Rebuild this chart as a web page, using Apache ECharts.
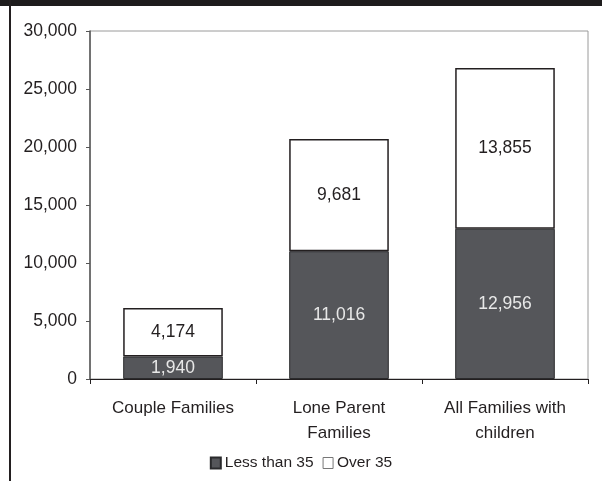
<!DOCTYPE html>
<html>
<head>
<meta charset="utf-8">
<script src="https://cdn.jsdelivr.net/npm/echarts@6/dist/echarts.min.js"></script>
<style>
  html, body { margin: 0; padding: 0; background: #ffffff; }
  #chart { width: 602px; height: 481px; }
</style>
</head>
<body>
<div id="chart"></div>
<script>
// Family groups on the category axis
const categories = ['Couple Families', 'Lone Parent\nFamilies', 'All Families with\nchildren'];
// Stacked segments: age of the family reference person
const lessThan35 = [1940, 11016, 12956];
const over35 = [4174, 9681, 13855];
const seriesNames = ['Less than 35', 'Over 35'];
// Value axis range
const yMin = 0, yMax = 30000, yStep = 5000;

const fmt = v => Number(v).toLocaleString('en-US');
const FONT = '"Liberation Sans", Arial, sans-serif';
const INK = '#231f20';

const chart = echarts.init(document.getElementById('chart'), null, { renderer: 'canvas' });
chart.setOption({
  animation: false,
  backgroundColor: '#ffffff',
  textStyle: { fontFamily: FONT },
  graphic: [
    { type: 'rect', left: 0, top: 0, shape: { width: 602, height: 6 }, style: { fill: '#1e1c1d' }, silent: true },
    { type: 'rect', left: 9, top: 0, shape: { width: 2, height: 481 }, style: { fill: INK }, silent: true }
  ],
  grid: {
    left: 90, right: 14, top: 31, bottom: 102,
    show: true, borderColor: '#9a9a9a', borderWidth: 1, backgroundColor: 'transparent'
  },
  legend: {
    bottom: 5,
    left: 'center',
    itemWidth: 10, itemHeight: 11, itemGap: 9,
    icon: 'rect',
    textStyle: { fontFamily: FONT, fontSize: 15.5, color: INK, padding: [0, 0, 0, -1] },
    data: [
      { name: seriesNames[0] },
      { name: seriesNames[1], itemStyle: { color: '#ffffff', borderColor: '#777777', borderWidth: 1 } }
    ]
  },
  xAxis: {
    type: 'category',
    data: categories,
    axisLine: { lineStyle: { color: INK, width: 1 } },
    axisTick: { show: true, length: 5, lineStyle: { color: INK } },
    axisLabel: { fontFamily: FONT, fontSize: 17, color: INK, margin: 17, lineHeight: 25, interval: 0 }
  },
  yAxis: {
    type: 'value',
    min: yMin, max: yMax, interval: yStep,
    splitLine: { show: false },
    axisLine: { show: true, lineStyle: { color: '#555555', width: 1.5 } },
    axisTick: { show: true, length: 4, lineStyle: { color: '#555555' } },
    axisLabel: { fontFamily: FONT, fontSize: 17.5, color: INK, margin: 13, formatter: fmt }
  },
  series: [
    {
      name: seriesNames[0],
      type: 'bar',
      stack: 'age',
      barCategoryGap: '40%',
      data: lessThan35,
      itemStyle: { color: '#55565a', borderColor: '#2a2a2c', borderWidth: 1 },
      label: { show: true, position: 'inside', fontFamily: FONT, fontSize: 17.5, color: '#e8e8e8', formatter: p => fmt(p.value) }
    },
    {
      name: seriesNames[1],
      type: 'bar',
      stack: 'age',
      data: over35,
      itemStyle: { color: '#ffffff', borderColor: INK, borderWidth: 1.5 },
      label: { show: true, position: 'inside', fontFamily: FONT, fontSize: 17.5, color: INK, formatter: p => fmt(p.value) }
    }
  ]
});
</script>
</body>
</html>
